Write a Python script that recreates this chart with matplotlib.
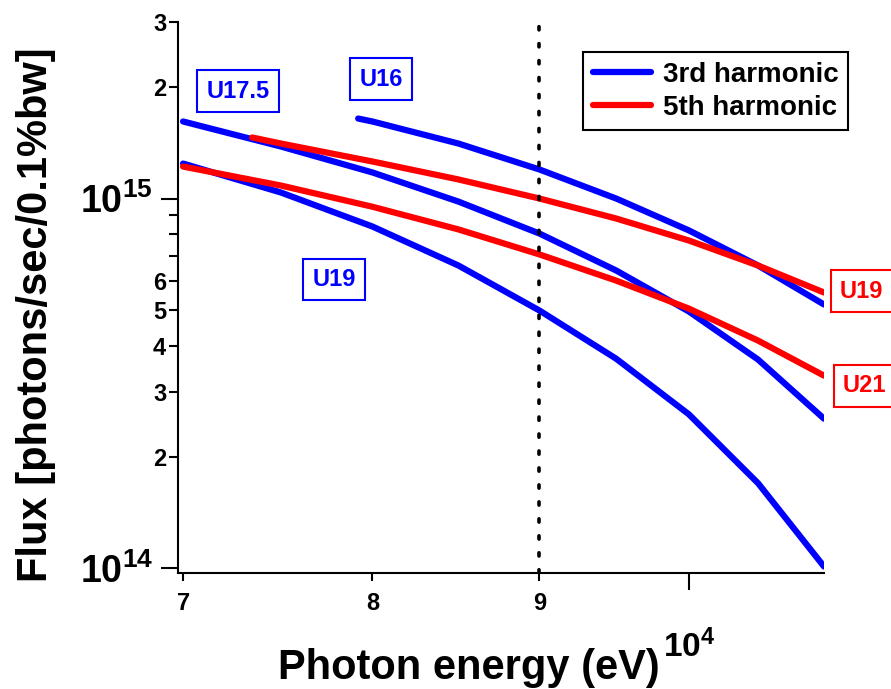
import matplotlib
matplotlib.use("Agg")
import matplotlib.pyplot as plt
from matplotlib.ticker import FixedLocator, FixedFormatter

plt.rcParams['font.family'] = 'Liberation Sans'
plt.rcParams['font.weight'] = 'bold'
plt.rcParams['mathtext.fontset'] = 'custom'
plt.rcParams['mathtext.rm'] = 'Liberation Sans:bold'
plt.rcParams['mathtext.it'] = 'Liberation Sans:bold'
plt.rcParams['mathtext.bf'] = 'Liberation Sans:bold'

# photon energy (eV) and flux (photons/sec/0.1%bw)
energy = [7000, 7500, 8000, 8500, 9000, 9500, 10000, 10500, 11000]
flux_u175_3rd = [1.615e15, 1.382e15, 1.176e15, 9.81e14, 8.04e14, 6.39e14, 4.95e14, 3.67e14, 2.54e14]
flux_u19_3rd = [1.243e15, 1.038e15, 8.40e14, 6.59e14, 4.98e14, 3.69e14, 2.61e14, 1.70e14, 1.012e14]
flux_u21_5th = [1.22e15, 1.084e15, 9.5e14, 8.25e14, 7.06e14, 6.00e14, 5.04e14, 4.13e14, 3.32e14]

energy_u16 = [7920, 8000, 8500, 9000, 9500, 10000, 10500, 11000]
flux_u16_3rd = [1.645e15, 1.615e15, 1.408e15, 1.198e15, 1.0e15, 8.2e14, 6.59e14, 5.17e14]

energy_u19_5th = [7350, 7500, 8000, 8500, 9000, 9500, 10000, 10500, 11000]
flux_u19_5th = [1.462e15, 1.408e15, 1.259e15, 1.126e15, 1.0e15, 8.83e14, 7.70e14, 6.59e14, 5.57e14]

marker_energy = 9000

# undulator names and where their tags sit (energy, flux)
tag_names = ['U17.5', 'U16', 'U19', 'U19', 'U21']
tag_x = [7277, 8048, 7787, 11297, 11321]
tag_y = [1.95e15, 2.10e15, 6.04e14, 5.61e14, 3.12e14]
tag_colors = ['blue', 'blue', 'blue', 'red', 'red']

fig = plt.figure(figsize=(8.91, 6.89), dpi=100)
ax = fig.add_axes([178/891, 116/689, 646/891, 551/689])

lw = 4.5
ax.plot(energy, flux_u175_3rd, color='blue', lw=lw, solid_capstyle='round', label='3rd harmonic')
ax.plot(energy_u16, flux_u16_3rd, color='blue', lw=lw, solid_capstyle='round')
ax.plot(energy, flux_u19_3rd, color='blue', lw=lw, solid_capstyle='round')
ax.plot(energy_u19_5th, flux_u19_5th, color='red', lw=lw, solid_capstyle='round', label='5th harmonic')
ax.plot(energy, flux_u21_5th, color='red', lw=lw, solid_capstyle='round')

ax.axvline(marker_energy, color='black', lw=2.6, linestyle=(0, (0.9, 3.8)),
           dash_capstyle='round')

ax.set_xscale('log')
ax.set_yscale('log')
ax.set_xlim(6975, 11000)
ax.set_ylim(0.972e14, 3.0e15)

for s in ['top', 'right']:
    ax.spines[s].set_visible(False)
for s in ['left', 'bottom']:
    ax.spines[s].set_linewidth(1.5)

# y ticks
ax.yaxis.set_major_locator(FixedLocator([1e14, 1e15]))
ax.yaxis.set_major_formatter(FixedFormatter(['$10^{14}$', '$10^{15}$']))
ymin = [2e14, 3e14, 4e14, 5e14, 6e14, 7e14, 8e14, 9e14, 2e15, 3e15]
ax.yaxis.set_minor_locator(FixedLocator(ymin))
ax.yaxis.set_minor_formatter(FixedFormatter(['2', '3', '4', '5', '6', '', '', '', '2', '3']))
ax.tick_params(axis='y', which='major', length=12, width=1.5, labelsize=27, pad=6)
ax.tick_params(axis='y', which='minor', length=6.5, width=1.5, labelsize=17, pad=2)

# x ticks
ax.xaxis.set_major_locator(FixedLocator([1e4]))
ax.xaxis.set_major_formatter(FixedFormatter(['']))
ax.xaxis.set_minor_locator(FixedLocator([7000, 8000, 9000]))
ax.xaxis.set_minor_formatter(FixedFormatter(['7', '8', '9']))
ax.tick_params(axis='x', which='major', length=12, width=1.5)
ax.tick_params(axis='x', which='minor', length=6, width=1.5, labelsize=17, pad=8)

ax.annotate('$10^4$', xy=(1e4, 0), xycoords=('data', 'axes fraction'),
            xytext=(0, -84), textcoords='offset pixels',
            ha='center', va='baseline', fontsize=24)

ax.set_xlabel('Photon energy (eV)', fontsize=30, fontweight='bold')
ax.xaxis.set_label_coords(0.4505, -0.137)
ax.set_ylabel('Flux [photons/sec/0.1%bw]', fontsize=30, fontweight='bold')
ax.yaxis.set_label_coords(-0.189, 0.468)

for name, tx, ty, c in zip(tag_names, tag_x, tag_y, tag_colors):
    ax.text(tx, ty, name, color=c, fontsize=17, fontweight='bold',
            ha='center', va='center',
            bbox=dict(boxstyle='square,pad=0.4', fc='white', ec=c, lw=1.5))

leg = ax.legend(loc='upper right', bbox_to_anchor=(848/891, 1 - 52/689),
                bbox_transform=fig.transFigure, borderaxespad=0,
                fontsize=20, handlelength=2.1, handletextpad=0.4,
                borderpad=0.35, labelspacing=0.25,
                frameon=True, fancybox=False,
                edgecolor='black', framealpha=1)
leg.get_frame().set_linewidth(1.5)
for t in leg.get_texts():
    t.set_fontweight('bold')

fig.savefig('out.png', dpi=100)
